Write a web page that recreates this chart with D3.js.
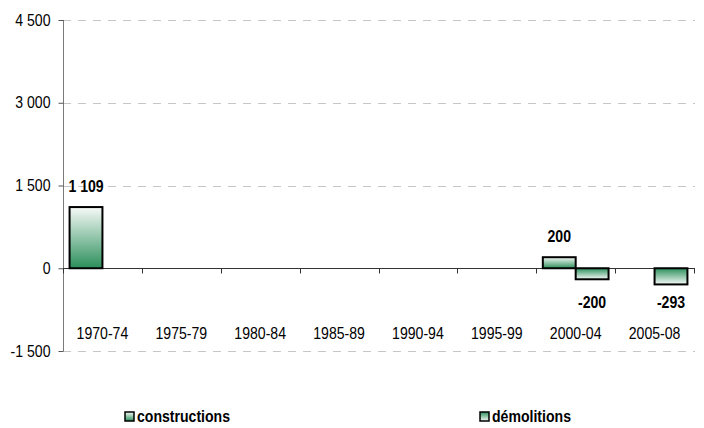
<!DOCTYPE html>
<html>
<head>
<meta charset="utf-8">
<script src="https://cdn.jsdelivr.net/npm/d3@7/dist/d3.min.js"></script>
<style>
  body { margin: 0; background: #fff; }
  svg text { font-family: "Liberation Sans", Arial, sans-serif; fill: #000; font-size: 16px; }
</style>
</head>
<body>
<div id="chart"></div>
<script>
const categories = ['1970-74', '1975-79', '1980-84', '1985-89', '1990-94', '1995-99', '2000-04', '2005-08'];
const constructions = [1109, 0, 0, 0, 0, 0, 200, 0];
const demolitions = [0, 0, 0, 0, 0, 0, -200, -293];
const seriesNames = ['constructions', 'démolitions'];
const yTicks = [-1500, 0, 1500, 3000, 4500];

const width = 704, height = 428;
const green = '#2b8f5b';
const squeeze = 0.88; // the original text is a bit condensed

const locale = d3.formatLocale({ decimal: ',', thousands: ' ', grouping: [3], currency: ['', ' €'], minus: '-' });
const fmt = locale.format(',d');

const svg = d3.select('#chart').append('svg')
  .attr('width', width)
  .attr('height', height);

// gradients: constructions light on top, demolitions green on top
const defs = svg.append('defs');
const gc = defs.append('linearGradient').attr('id', 'gc').attr('x1', 0).attr('y1', 0).attr('x2', 0).attr('y2', 1);
gc.append('stop').attr('offset', '0%').attr('stop-color', '#f7faf8');
gc.append('stop').attr('offset', '100%').attr('stop-color', green);
const gd = defs.append('linearGradient').attr('id', 'gd').attr('x1', 0).attr('y1', 0).attr('x2', 0).attr('y2', 1);
gd.append('stop').attr('offset', '0%').attr('stop-color', green);
gd.append('stop').attr('offset', '100%').attr('stop-color', '#f7faf8');

const x = d3.scaleBand()
  .domain(categories)
  .range([63, 694])
  .padding(0);

const xs = d3.scaleBand()
  .domain(seriesNames)
  .range([0, x.bandwidth()])
  .paddingInner(0)
  .paddingOuter(0.2);

const y = d3.scaleLinear()
  .domain([-1500, 4500])
  .range([351, 20]);

// gridlines
svg.append('g')
  .selectAll('line')
  .data(yTicks.filter(d => d !== 0))
  .enter().append('line')
  .attr('x1', 63).attr('x2', 695)
  .attr('y1', d => Math.round(y(d)) + 0.5)
  .attr('y2', d => Math.round(y(d)) + 0.5)
  .attr('stroke', '#c6c6c6')
  .attr('stroke-dasharray', '8,7');

// y axis
const yAxis = svg.append('g')
  .attr('transform', 'translate(63.5,0)')
  .call(d3.axisLeft(y).tickValues(yTicks).tickFormat(fmt).tickSize(5).tickPadding(8));
yAxis.attr('font-family', null).attr('font-size', null);
yAxis.select('.domain').attr('stroke', '#7a7a7a').attr('d', `M0,${y(4500)}V${y(-1500)}`);
yAxis.selectAll('.tick line').attr('stroke', '#555');
yAxis.selectAll('.tick text')
  .attr('x', -13 / squeeze)
  .attr('transform', `scale(${squeeze},1)`);

// x axis at zero, labels at the bottom
const xAxis = svg.append('g')
  .attr('transform', `translate(0,${Math.round(y(0)) + 0.5})`);
xAxis.append('line')
  .attr('x1', 63).attr('x2', 695)
  .attr('stroke', '#333');
xAxis.selectAll('line.tk')
  .data(categories.concat(['end']))
  .enter().append('line')
  .attr('class', 'tk')
  .attr('x1', (d, i) => i < categories.length ? Math.round(x(d)) + 0.5 : 694.5)
  .attr('x2', (d, i) => i < categories.length ? Math.round(x(d)) + 0.5 : 694.5)
  .attr('y1', 0).attr('y2', 5)
  .attr('stroke', '#333');

svg.append('g')
  .selectAll('text')
  .data(categories)
  .enter().append('text')
  .attr('transform', d => `translate(${x(d) + x.bandwidth() / 2},339) scale(${squeeze},1)`)
  .attr('text-anchor', 'middle')
  .text(d => d);

// bars
const rows = [];
categories.forEach((c, i) => {
  rows.push({ cat: c, s: seriesNames[0], v: constructions[i], fill: 'url(#gc)' });
  rows.push({ cat: c, s: seriesNames[1], v: demolitions[i], fill: 'url(#gd)' });
});

svg.append('g')
  .selectAll('rect')
  .data(rows.filter(d => d.v !== 0))
  .enter().append('rect')
  .attr('x', d => x(d.cat) + xs(d.s))
  .attr('y', d => y(Math.max(0, d.v)))
  .attr('width', xs.bandwidth())
  .attr('height', d => Math.abs(y(d.v) - y(0)))
  .attr('fill', d => d.fill)
  .attr('stroke', '#000')
  .attr('stroke-width', 2);

// value labels
svg.append('g')
  .selectAll('text')
  .data(rows.filter(d => d.v !== 0))
  .enter().append('text')
  .attr('transform', d => {
    const cx = x(d.cat) + xs(d.s) + xs.bandwidth() / 2;
    const ty = d.v > 0 ? y(d.v) - 15 : 308;
    return `translate(${cx},${ty}) scale(${squeeze},1)`;
  })
  .attr('text-anchor', 'middle')
  .style('font-weight', 'bold')
  .text(d => fmt(d.v));

// legend
const legendX = [125, 480];
const legend = svg.append('g')
  .selectAll('g')
  .data(seriesNames)
  .enter().append('g')
  .attr('transform', (d, i) => `translate(${legendX[i]},412)`);
legend.append('rect')
  .attr('width', 9).attr('height', 9)
  .attr('fill', (d, i) => i === 0 ? 'url(#gc)' : 'url(#gd)')
  .attr('stroke', '#000')
  .attr('stroke-width', 1.5);
legend.append('text')
  .attr('transform', `translate(12,10) scale(${squeeze},1)`)
  .style('font-weight', 'bold')
  .text(d => d);
</script>
</body>
</html>
